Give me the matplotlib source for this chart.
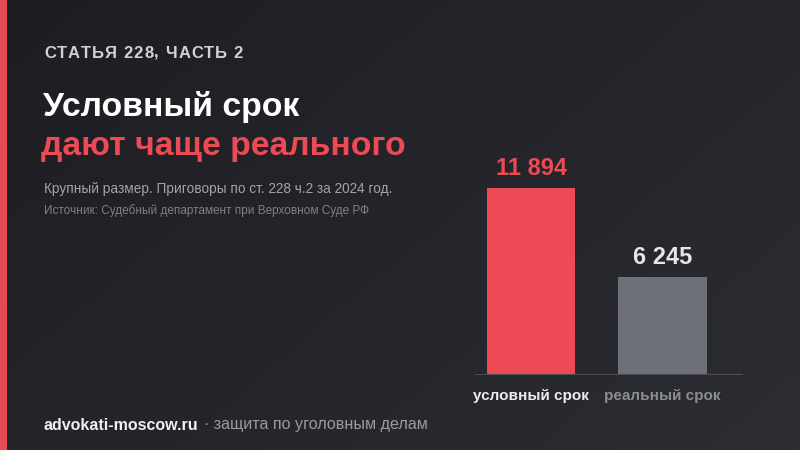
import numpy as np
import matplotlib.pyplot as plt
from matplotlib.colors import LinearSegmentedColormap

plt.rcParams['font.family'] = ['Liberation Sans', 'DejaVu Sans']

# --- data ---
categories = ["условный срок", "реальный срок"]
values = [11894, 6245]
value_labels = ["11 894", "6 245"]

bar_colors = ["#ec4a55", "#6d7079"]
value_colors = ["#ec4a55", "#e6e6ea"]
cat_colors = ["#ececee", "#8b8d95"]

fig = plt.figure(figsize=(8, 4.5), dpi=100)

# background gradient (diagonal, dark)
bg = fig.add_axes([0, 0, 1, 1], zorder=-10)
xx, yy = np.meshgrid(np.linspace(0, 1, 200), np.linspace(0, 1, 120))
grad = (xx * 0.6 + yy * 0.4)
cmap = LinearSegmentedColormap.from_list("bg", ["#1d1d22", "#2c2d33"])
bg.imshow(grad, cmap=cmap, aspect="auto", extent=[0, 1, 0, 1], origin="upper")
bg.set_xlim(0, 1)
bg.set_ylim(0, 1)
bg.axis("off")

# red stripe on the left
fig.patches.append(plt.Rectangle((0, 0), 7 / 800, 1, transform=fig.transFigure,
                                 facecolor="#e84a55", edgecolor="none", zorder=5))


def spaced_text(x_px, y_px, s, spacing, **kw):
    """draw text letter by letter with extra tracking (pixels)"""
    fig.canvas.draw()
    cur = x_px
    for ch in s:
        t = fig.text(cur / 800, 1 - y_px / 450, ch, ha="left", va="center", **kw)
        w = t.get_window_extent(renderer=fig.canvas.get_renderer()).width
        if ch == " ":
            w = kw.get("fontsize", 10) * 0.28 * 100 / 72
        cur += w + spacing


# --- header texts ---
spaced_text(44, 53, "СТАТЬЯ 228, ЧАСТЬ 2", 1.0, color="#d2d2d6", fontsize=12, fontweight="bold")
fig.text(43 / 800, 1 - 107 / 450, "Условный срок", color="white", fontsize=24.3,
         fontweight="bold", va="center", ha="left")
fig.text(41 / 800, 1 - 146 / 450, "дают чаще реального", color="#ec4a55", fontsize=24.3,
         fontweight="bold", va="center", ha="left")
fig.text(44 / 800, 1 - 189 / 450, "Крупный размер. Приговоры по ст. 228 ч.2 за 2024 год.",
         color="#a3a4ab", fontsize=9.8, va="center", ha="left")
fig.text(44 / 800, 1 - 211 / 450, "Источник: Судебный департамент при Верховном Суде РФ",
         color="#7f8088", fontsize=8.5, va="center", ha="left")

# --- footer ---
t = fig.text(44 / 800, 1 - 425 / 450, "advokati-moscow.ru", color="#f0f0f2", fontsize=11.5,
             fontweight="bold", va="center", ha="left")
fig.canvas.draw()
bb = t.get_window_extent()
fig.text((bb.x1 + 5) / 800, 1 - 425 / 450, "· защита по уголовным делам", color="#9a9ba3",
         fontsize=11.6, va="center", ha="left")

# --- bar chart ---
ax = fig.add_axes([475 / 800, 1 - 375 / 450, 268 / 800, 225 / 450])
ax.set_facecolor("none")
x = np.arange(len(values))
ax.bar(x, values, width=0.67, color=bar_colors, zorder=2)
ax.set_xlim(-0.426, 1.612)
ax.set_ylim(0, 11894 * 225 / 187)
for i, v in enumerate(values):
    ax.text(x[i], v + 500, value_labels[i], color=value_colors[i], fontsize=17,
            fontweight="bold", ha="center", va="bottom")
    ax.text(x[i], -900, categories[i], color=cat_colors[i], fontsize=11,
            fontweight="bold", ha="center", va="top")
ax.axhline(0, color="#4c4d55", linewidth=1.5, zorder=3)
for s in ax.spines.values():
    s.set_visible(False)
ax.set_xticks([])
ax.set_yticks([])

fig.savefig("out.png", dpi=100, facecolor="#222227")
